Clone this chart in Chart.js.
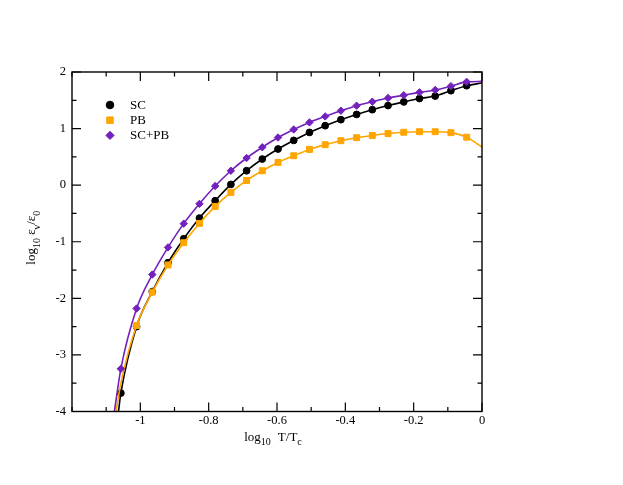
<!DOCTYPE html>
<html>
<head>
<meta charset="utf-8">
<script src="https://cdn.jsdelivr.net/npm/chart.js@4.4.0/dist/chart.umd.min.js"></script>
<style>
  html, body { margin: 0; padding: 0; background: #fff; }
  #chart { display: block; }
</style>
</head>
<body>
<canvas id="chart" width="623" height="485"></canvas>
<script>
// log10 T/Tc at the marker positions
const logT = [-1.057, -1.011, -0.965, -0.919, -0.873, -0.827, -0.781, -0.735, -0.689, -0.643,
              -0.597, -0.551, -0.505, -0.459, -0.413, -0.367, -0.321, -0.275, -0.229, -0.183,
              -0.137, -0.091, -0.045];

// log10 eps_nu/eps_0
const scValues   = [-3.675, -2.50, -1.88, -1.37, -0.947, -0.581, -0.275, 0.013, 0.255, 0.462,
                    0.639, 0.791, 0.932, 1.051, 1.157, 1.250, 1.334, 1.407, 1.472, 1.531,
                    1.575, 1.670, 1.758];
const pbValues   = [null, -2.48, -1.89, -1.41, -1.017, -0.676, -0.376, -0.128, 0.084, 0.255,
                    0.402, 0.520, 0.632, 0.715, 0.786, 0.839, 0.879, 0.912, 0.935, 0.945,
                    0.945, 0.928, 0.848];
const scpbValues = [-3.245, -2.18, -1.58, -1.10, -0.68, -0.33, -0.015, 0.255, 0.48, 0.67,
                    0.842, 0.985, 1.109, 1.215, 1.316, 1.405, 1.475, 1.540, 1.590, 1.640,
                    1.682, 1.750, 1.826];

// fitted curves: where they leave the bottom of the frame, and their value at log10 T/Tc = 0
const curveStartX = { sc: -1.064, pb: -1.071, scpb: -1.076 };
const curveEndY   = { sc: 1.805, pb: 0.674, scpb: 1.834 };
const pbCurveFirst = -3.50;   // PB curve at the first position (no marker there)

// axes
const xMajorTicks = [-1, -0.8, -0.6, -0.4, -0.2, 0];
const xTickLabels = ['-1', '-0.8', '-0.6', '-0.4', '-0.2', '0'];
const xMinorTicks = [-1.2, -1.1, -0.9, -0.7, -0.5, -0.3, -0.1];
const yMajorTicks = [-4, -3, -2, -1, 0, 1, 2];
const yTickLabels = ['-4', '-3', '-2', '-1', '0', '1', '2'];
const yMinorTicks = [-3.5, -2.5, -1.5, -0.5, 0.5, 1.5];

const SERIF = '"Liberation Serif", "DejaVu Serif", serif';
const PURPLE = '#7221bc';
const ORANGE = '#ffa500';

function buildSeries(values, startX, endY, firstCurve) {
    const pts = [{ x: startX, y: -4, marker: false }];
    logT.forEach((x, i) => {
        if (values[i] === null) {
            if (firstCurve !== undefined) pts.push({ x, y: firstCurve, marker: false });
        } else {
            pts.push({ x, y: values[i], marker: true });
        }
    });
    pts.push({ x: 0, y: endY, marker: false });
    return pts;
}

function makeDataset(label, pts, color, style, radius) {
    return {
        label,
        data: pts,
        borderColor: color,
        backgroundColor: color,
        borderWidth: 1.6,
        pointStyle: style,
        pointRadius: ctx => (ctx.raw && ctx.raw.marker ? radius : 0),
        pointBorderWidth: 1,
        pointBorderColor: color,
        pointBackgroundColor: color,
        cubicInterpolationMode: 'monotone',
        fill: false
    };
}

// SC+PB first so it is drawn on top, SC last so it sits underneath
const datasets = [
    makeDataset('SC+PB', buildSeries(scpbValues, curveStartX.scpb, curveEndY.scpb), PURPLE, 'rectRot', 3.7),
    makeDataset('PB', buildSeries(pbValues, curveStartX.pb, curveEndY.pb, pbCurveFirst), ORANGE, 'rect', 4.2),
    makeDataset('SC', buildSeries(scValues, curveStartX.sc, curveEndY.sc), '#000000', 'circle', 3.4)
];

function drawMarker(ctx, style, x, y, r, color) {
    ctx.save();
    ctx.fillStyle = color;
    ctx.strokeStyle = color;
    ctx.lineWidth = 1;
    ctx.beginPath();
    if (style === 'circle') {
        ctx.arc(x, y, r, 0, Math.PI * 2);
    } else if (style === 'rect') {
        const s = r / Math.SQRT2;
        ctx.rect(x - s, y - s, 2 * s, 2 * s);
    } else {
        ctx.moveTo(x, y - r); ctx.lineTo(x + r, y); ctx.lineTo(x, y + r); ctx.lineTo(x - r, y); ctx.closePath();
    }
    ctx.fill();
    ctx.stroke();
    ctx.restore();
}

// text with subscripts, drawn centred on the current origin along the baseline
function drawRich(ctx, pieces, size, subSize) {
    const widthOf = p => {
        if (p.gap) return p.gap;
        ctx.font = (p.sub ? subSize : size) + 'px ' + SERIF;
        return ctx.measureText(p.t).width;
    };
    const total = pieces.reduce((s, p) => s + widthOf(p), 0);
    let x = -total / 2;
    ctx.textBaseline = 'alphabetic';
    ctx.textAlign = 'left';
    ctx.fillStyle = '#000';
    pieces.forEach(p => {
        const w = widthOf(p);
        if (!p.gap) {
            ctx.font = (p.sub ? subSize : size) + 'px ' + SERIF;
            ctx.fillText(p.t, x, p.sub ? 4.5 : 0);
        }
        x += w;
    });
}

const framePlugin = {
    id: 'frame',
    afterDraw(chart) {
        const { ctx, chartArea: a, scales } = chart;
        const xs = scales.x, ys = scales.y;
        ctx.save();
        ctx.strokeStyle = '#000';
        ctx.lineWidth = 1.4;
        ctx.strokeRect(a.left, a.top, a.right - a.left, a.bottom - a.top);

        ctx.lineWidth = 1.2;
        ctx.beginPath();
        const xTick = (v, len) => {
            const px = xs.getPixelForValue(v);
            ctx.moveTo(px, a.bottom); ctx.lineTo(px, a.bottom - len);
            ctx.moveTo(px, a.top); ctx.lineTo(px, a.top + len);
        };
        const yTick = (v, len) => {
            const py = ys.getPixelForValue(v);
            ctx.moveTo(a.left, py); ctx.lineTo(a.left + len, py);
            ctx.moveTo(a.right, py); ctx.lineTo(a.right - len, py);
        };
        xMajorTicks.forEach(v => xTick(v, 9));
        xMinorTicks.forEach(v => xTick(v, 4.5));
        yMajorTicks.forEach(v => yTick(v, 9));
        yMinorTicks.forEach(v => yTick(v, 4.5));
        ctx.stroke();

        // legend
        const legendRows = [
            { label: 'SC', style: 'circle', r: 3.8, color: '#000000' },
            { label: 'PB', style: 'rect', r: 4.6, color: ORANGE },
            { label: 'SC+PB', style: 'rectRot', r: 4.1, color: PURPLE }
        ];
        ctx.font = '13px ' + SERIF;
        ctx.textBaseline = 'middle';
        ctx.textAlign = 'left';
        legendRows.forEach((row, i) => {
            const y = 105 + i * 15.2;
            drawMarker(ctx, row.style, 110, y, row.r, row.color);
            ctx.fillStyle = '#000';
            ctx.fillText(row.label, 130, y + 0.5);
        });

        // axis titles
        ctx.save();
        ctx.translate((a.left + a.right) / 2 - 4, 440.5);
        drawRich(ctx, [{ t: 'log' }, { t: '10', sub: true }, { gap: 7 }, { t: 'T/T' }, { t: 'c', sub: true }], 13, 10);
        ctx.restore();

        ctx.save();
        ctx.translate(35, (a.top + a.bottom) / 2 - 4);
        ctx.rotate(-Math.PI / 2);
        drawRich(ctx, [{ t: 'log' }, { t: '10', sub: true }, { t: ' \u03b5' }, { t: '\u03bd', sub: true },
                       { t: '/\u03b5' }, { t: '0', sub: true }], 13, 10);
        ctx.restore();
        ctx.restore();
    }
};

new Chart(document.getElementById('chart').getContext('2d'), {
    type: 'line',
    data: { datasets },
    plugins: [framePlugin],
    options: {
        responsive: false,
        animation: false,
        events: [],
        layout: { padding: { left: 0, top: 72, right: 141, bottom: 0 } },
        plugins: { legend: { display: false }, tooltip: { enabled: false } },
        scales: {
            x: {
                type: 'linear',
                min: -1.2,
                max: 0,
                grid: { display: false, drawTicks: false },
                border: { display: false },
                afterFit: s => { s.height = 73.5; },
                afterBuildTicks: s => { s.ticks = xMajorTicks.map(v => ({ value: v })); },
                ticks: {
                    padding: 2,
                    color: '#000',
                    font: { family: SERIF, size: 12.5 },
                    callback: v => xTickLabels[xMajorTicks.indexOf(v)]
                }
            },
            y: {
                type: 'linear',
                min: -4,
                max: 2,
                grid: { display: false, drawTicks: false },
                border: { display: false },
                afterFit: s => { s.width = 72; },
                afterBuildTicks: s => { s.ticks = yMajorTicks.map(v => ({ value: v })); },
                ticks: {
                    padding: 6,
                    color: '#000',
                    font: { family: SERIF, size: 12.5 },
                    callback: v => yTickLabels[yMajorTicks.indexOf(v)]
                }
            }
        }
    }
});
</script>
</body>
</html>
